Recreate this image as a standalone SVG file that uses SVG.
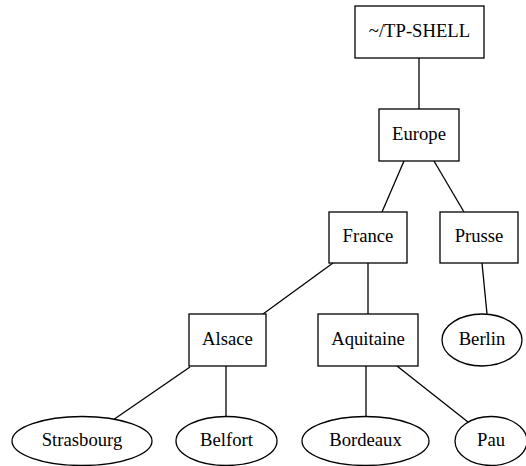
<svg xmlns="http://www.w3.org/2000/svg" width="526" height="466" viewBox="0 0 526 466">
<style>
.n rect, .n ellipse { fill: #fff; stroke: #000; stroke-width: 1.3; }
.n text { font-family: 'Liberation Serif', 'Times New Roman', Times, serif; font-size: 18.67px; text-anchor: middle; fill: #000; }
#edges line { stroke: #000; stroke-width: 1.3; }
</style>
<rect width="526" height="466" fill="#fff"/>
<g id="edges">
<line x1="419" y1="58" x2="419" y2="109"/>
<line x1="404" y1="161" x2="382" y2="212"/>
<line x1="434" y1="161" x2="464" y2="212"/>
<line x1="333" y1="263" x2="263" y2="314"/>
<line x1="368" y1="263" x2="368" y2="314"/>
<line x1="482" y1="263" x2="487" y2="314"/>
<line x1="190" y1="367" x2="113" y2="420"/>
<line x1="226" y1="366" x2="226" y2="417"/>
<line x1="366" y1="366" x2="366" y2="417"/>
<line x1="397" y1="366" x2="468" y2="422"/>
</g>
<g id="tpshell" class="n"><rect x="355" y="6" width="129" height="52"/><text x="419.5" y="37" font-family="Liberation Serif, serif">~/TP-SHELL</text></g>
<g id="europe" class="n"><rect x="379" y="109" width="80" height="52"/><text x="419" y="140">Europe</text></g>
<g id="france" class="n"><rect x="329" y="212" width="78" height="51"/><text x="368" y="242">France</text></g>
<g id="prusse" class="n"><rect x="440" y="212" width="78" height="51"/><text x="479" y="242">Prusse</text></g>
<g id="alsace" class="n"><rect x="189" y="314" width="77" height="52"/><text x="227.5" y="345">Alsace</text></g>
<g id="aquitaine" class="n"><rect x="318" y="314" width="100" height="52"/><text x="368" y="345">Aquitaine</text></g>
<g id="berlin" class="n"><ellipse cx="482" cy="340" rx="40" ry="26"/><text x="482" y="345">Berlin</text></g>
<g id="strasbourg" class="n"><ellipse cx="82" cy="441" rx="70" ry="24.5"/><text x="82" y="446">Strasbourg</text></g>
<g id="belfort" class="n"><ellipse cx="226.5" cy="441" rx="50.5" ry="24.5"/><text x="226.5" y="446">Belfort</text></g>
<g id="bordeaux" class="n"><ellipse cx="365.5" cy="441" rx="63.5" ry="24.5"/><text x="365.5" y="446">Bordeaux</text></g>
<g id="pau" class="n"><ellipse cx="491" cy="441" rx="36" ry="24.5"/><text x="491" y="446">Pau</text></g>
</svg>
